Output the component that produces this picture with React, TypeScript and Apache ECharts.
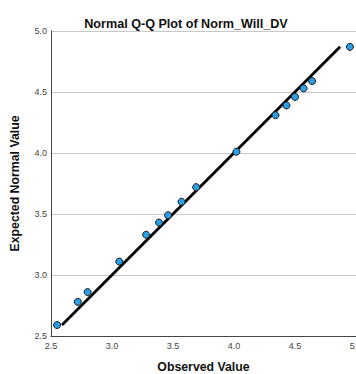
import React, { useEffect, useRef } from "react";
import * as echarts from "echarts";

const observed = [2.55, 2.72, 2.8, 3.06, 3.28, 3.385, 3.46, 3.57, 3.69, 4.02, 4.34, 4.43, 4.5, 4.57, 4.64, 4.95];
const expected = [2.59, 2.78, 2.86, 3.11, 3.33, 3.43, 3.49, 3.6, 3.72, 4.01, 4.31, 4.39, 4.46, 4.53, 4.59, 4.87];
const lineX = [2.59, 4.87];
const lineY = [2.59, 4.87];

export default function App() {
  const ref = useRef<HTMLDivElement>(null);
  useEffect(() => {
    if (!ref.current) return;
    const chart = echarts.init(ref.current, null, { renderer: "svg" });
    const font = "'Liberation Sans', Arial, sans-serif";
    chart.setOption({
      animation: false,
      backgroundColor: "#ffffff",
      title: {
        text: "Normal Q-Q Plot of Norm_Will_DV",
        left: 181,
        textAlign: "center",
        top: 12,
        textStyle: { fontFamily: font, fontSize: 12.6, fontWeight: "bold", color: "#111" },
      },
      grid: {
        left: 51,
        top: 31,
        width: 305,
        height: 305,
        containLabel: false,
        outerBoundsMode: "none",
      },
      xAxis: {
        type: "value",
        min: 2.5,
        max: 5,
        interval: 0.5,
        name: "Observed Value",
        nameLocation: "middle",
        nameGap: 25,
        nameTextStyle: { fontFamily: font, fontSize: 12.3, fontWeight: "bold", color: "#111" },
        axisLine: { lineStyle: { color: "#444", width: 1 } },
        axisTick: { show: false },
        splitLine: { show: false },
        axisLabel: {
          fontFamily: font,
          fontSize: 9,
          color: "#444",
          margin: 5,
          formatter: (v: number) => v.toFixed(1),
        },
      },
      yAxis: {
        type: "value",
        min: 2.5,
        max: 5,
        interval: 0.5,
        name: "Expected Normal Value",
        nameLocation: "middle",
        nameGap: 30,
        nameTextStyle: { fontFamily: font, fontSize: 12.3, fontWeight: "bold", color: "#111" },
        axisLine: { show: true, lineStyle: { color: "#444", width: 1 } },
        axisTick: { show: false },
        splitLine: { show: true, lineStyle: { color: "#c8c8c8", width: 1 } },
        axisLabel: {
          fontFamily: font,
          fontSize: 9,
          color: "#444",
          margin: 4,
          formatter: (v: number) => v.toFixed(1),
        },
      },
      series: [
        {
          type: "line",
          data: lineX.map((x, i) => [x, lineY[i]]),
          showSymbol: false,
          symbol: "none",
          lineStyle: { color: "#000", width: 2.8 },
          z: 2,
        },
        {
          type: "scatter",
          data: observed.map((x, i) => [x, expected[i]]),
          symbol: "circle",
          symbolSize: 7,
          itemStyle: { color: "#2a9fe6", borderColor: "#1a1a1a", borderWidth: 1, opacity: 1 },
          z: 3,
        },
      ],
    });
    return () => chart.dispose();
  }, []);
  return (
    <div
      ref={ref}
      style={{ position: "fixed", left: 0, top: 0, width: 356, height: 374, overflow: "hidden" }}
    />
  );
}
